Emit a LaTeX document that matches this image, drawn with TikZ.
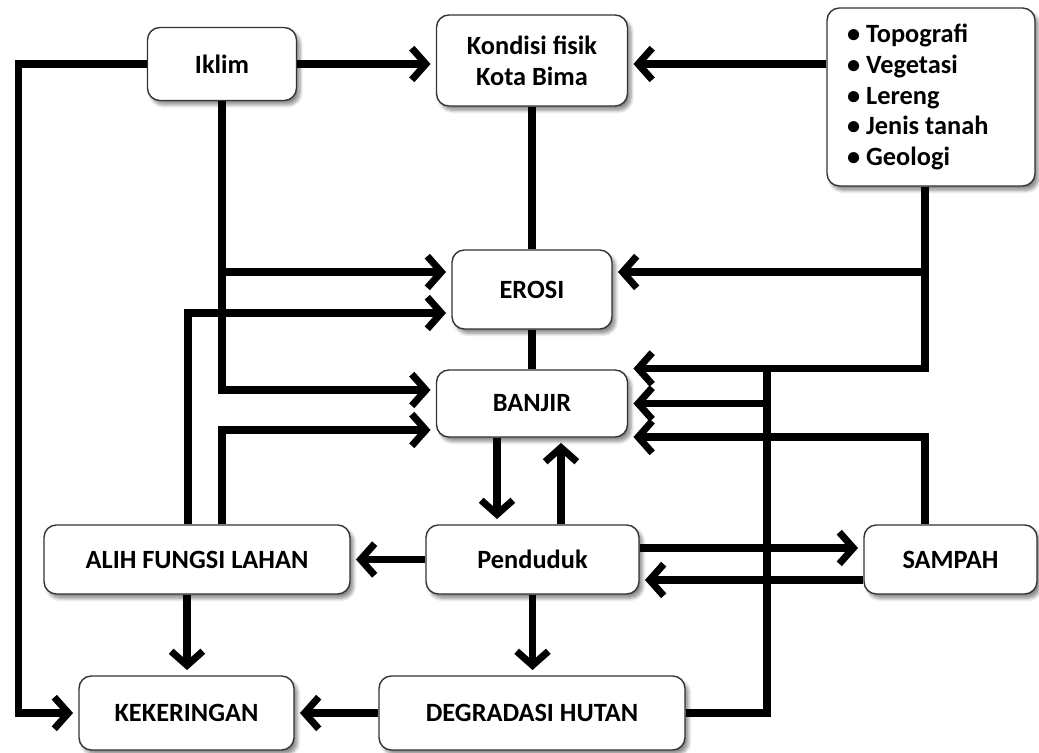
\documentclass[tikz,border=0pt]{standalone}
\usepackage{fontspec}
\setmainfont{Carlito}
\usetikzlibrary{arrows.meta,shadows.blur}
\tikzset{
  box/.style={draw=black!80, line width=0.8pt, rounded corners=7pt, fill=white,
    blur shadow={shadow xshift=2pt, shadow yshift=-2.5pt, shadow blur steps=6, shadow opacity=45},
    font=\fontsize{15}{17.6}\selectfont\bfseries, align=center, inner sep=0pt},
  link/.style={line width=4pt},
  arr/.style={link, -{Straight Barb[length=8pt,width=18pt]}, shorten >=3pt}
}
\begin{document}
\begin{tikzpicture}[x=0.02cm,y=-0.02cm]
    \useasboundingbox (0,0) rectangle (1039,753);
    % boxes
    \node[box, minimum width=2.98cm, minimum height=1.46cm] (iklim) at (222,64) {Iklim};
    \node[box, minimum width=3.82cm, minimum height=1.82cm] (kondisi) at (532,60.5) {Kondisi fisik\\Kota Bima};
    \node[box, minimum width=4.16cm, minimum height=3.56cm, align=left] (faktor) at (931,97)
      {• Topografi\\• Vegetasi\\• Lereng\\• Jenis tanah\\• Geologi\hspace*{1.3cm}};
    \node[box, minimum width=3.2cm, minimum height=1.58cm] (erosi) at (532,289.5) {EROSI};
    \node[box, minimum width=3.82cm, minimum height=1.34cm] (banjir) at (532,403.5) {BANJIR};
    \node[box, minimum width=6.12cm, minimum height=1.38cm] (alih) at (197,559.5) {ALIH FUNGSI LAHAN};
    \node[box, minimum width=4.26cm, minimum height=1.38cm] (penduduk) at (532.5,559.5) {Penduduk};
    \node[box, minimum width=3.46cm, minimum height=1.38cm] (sampah) at (950.5,559.5) {SAMPAH};
    \node[box, minimum width=4.3cm, minimum height=1.48cm] (kekeringan) at (186.5,713) {KEKERINGAN};
    \node[box, minimum width=6.12cm, minimum height=1.48cm] (degradasi) at (532,713) {DEGRADASI HUTAN};
    \coordinate (tikung) at (767,368);
    % connectors
    \draw[arr] (iklim.west) -- ++(-128,0) |- (kekeringan.west);
    \draw[arr] (iklim.east) -- (iklim.east -| kondisi.west);
    \draw[arr] (faktor.west |- iklim) -- (kondisi.east |- iklim);
    \draw[link] (kondisi.south) -- (erosi.north);
    \draw[link] (erosi.south) -- (banjir.north);
    \draw[arr] (iklim.south) |- ([yshift=0.35cm]erosi.west);
    \draw[arr] (iklim.south) |- ([yshift=0.27cm]banjir.west);
    \draw[arr] ([xshift=-0.18cm]alih.north) |- ([yshift=-0.47cm]erosi.west);
    \draw[arr] ([xshift=0.5cm]alih.north) |- ([yshift=-0.53cm]banjir.west);
    \draw[arr] ([xshift=-0.12cm]faktor.south) |- ([yshift=0.35cm]erosi.east);
    \draw[arr] ([xshift=-0.12cm]faktor.south) |- ([yshift=0.7cm]banjir.east);
    \draw[link] (degradasi.east) -| (tikung);
    \draw[arr] (tikung |- banjir) -- (banjir.east);
    \draw[arr] ([xshift=-0.51cm]sampah.north) |- ([yshift=-0.67cm]banjir.east);
    \draw[arr] ([yshift=0.23cm]penduduk.east) -- ([yshift=0.23cm]sampah.west);
    \draw[arr] ([yshift=-0.41cm]sampah.west) -- ([yshift=-0.41cm]penduduk.east);
    \draw[arr] ([xshift=-0.7cm]banjir.south) -- ([xshift=-0.7cm]banjir.south |- penduduk.north);
    \draw[arr] ([xshift=0.58cm]banjir.south |- penduduk.north) -- ([xshift=0.58cm]banjir.south);
    \draw[arr] (penduduk.west) -- (alih.east);
    \draw[arr] (penduduk.south) -- (penduduk.south |- degradasi.north);
    \draw[arr] ([xshift=-0.2cm]alih.south) -- ([xshift=-0.2cm]alih.south |- kekeringan.north);
    \draw[arr] (degradasi.west) -- (kekeringan.east);
\end{tikzpicture}
\end{document}
